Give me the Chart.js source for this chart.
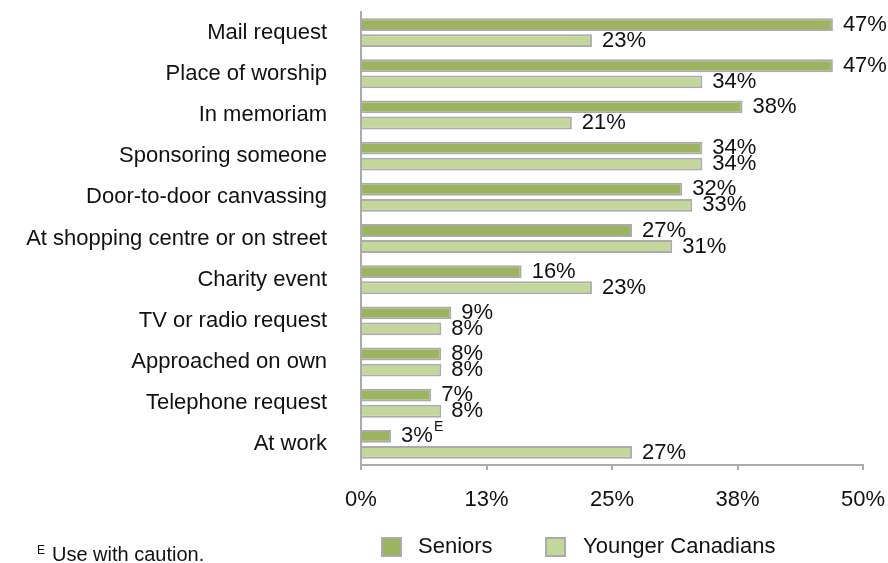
<!DOCTYPE html>
<html>
<head>
<meta charset="utf-8">
<title>Donation requests</title>
<script src="https://cdn.jsdelivr.net/npm/chart.js@4/dist/chart.umd.min.js"></script>
<style>
  html, body { margin: 0; padding: 0; background: #fff; }
  #wrap { width: 888px; height: 563px; }
</style>
</head>
<body>
<div id="wrap"><canvas id="chart" width="888" height="563"></canvas></div>
<script>
// solicitation types, top to bottom
const categories = [
  'Mail request', 'Place of worship', 'In memoriam', 'Sponsoring someone',
  'Door-to-door canvassing', 'At shopping centre or on street', 'Charity event',
  'TV or radio request', 'Approached on own', 'Telephone request', 'At work'
];
const seniors = [47, 47, 38, 34, 32, 27, 16, 9, 8, 7, 3];
const younger = [23, 34, 21, 34, 33, 31, 23, 8, 8, 8, 27];
// quality flags shown after a value label
const seniorsFlags = ['', '', '', '', '', '', '', '', '', '', 'E'];
const youngerFlags = ['', '', '', '', '', '', '', '', '', '', ''];
const xTicks = [0, 12.5, 25, 37.5, 50];

const FONT = '"Liberation Sans", Arial, Helvetica, sans-serif';
const TEXT = '#111';
const GREY = '#ababab';

const valueLabels = {
  id: 'valueLabels',
  afterDatasetsDraw(chart) {
    const ctx = chart.ctx;
    const flags = [seniorsFlags, youngerFlags];
    ctx.save();
    ctx.fillStyle = TEXT;
    ctx.textBaseline = 'middle';
    ctx.textAlign = 'left';
    chart.data.datasets.forEach((ds, di) => {
      const meta = chart.getDatasetMeta(di);
      meta.data.forEach((bar, i) => {
        const txt = ds.data[i] + '%';
        ctx.font = '22px ' + FONT;
        const x = bar.x + 10;
        ctx.fillText(txt, x, bar.y);
        if (flags[di][i]) {
          const w = ctx.measureText(txt).width;
          ctx.font = '14px ' + FONT;
          ctx.fillText(flags[di][i], x + w + 1, bar.y - 9);
        }
      });
    });
    ctx.restore();
  }
};

// legend row and footnote under the axis
const footer = {
  id: 'footer',
  afterDraw(chart) {
    const ctx = chart.ctx;
    const spots = [{ box: 381, text: 418 }, { box: 545, text: 583 }];
    ctx.save();
    ctx.textBaseline = 'middle';
    ctx.textAlign = 'left';
    chart.data.datasets.forEach((ds, i) => {
      const s = spots[i];
      ctx.fillStyle = ds.backgroundColor;
      ctx.fillRect(s.box, 537, 21, 20);
      ctx.strokeStyle = GREY;
      ctx.lineWidth = 2;
      ctx.strokeRect(s.box + 1, 538, 19, 18);
      ctx.fillStyle = TEXT;
      ctx.font = '22px ' + FONT;
      ctx.fillText(ds.label, s.text, 547);
    });
    ctx.font = '12px ' + FONT;
    ctx.fillText('E', 37, 551);
    ctx.font = '20px ' + FONT;
    ctx.fillText('Use with caution.', 52, 555);
    ctx.restore();
  }
};

new Chart(document.getElementById('chart'), {
  type: 'bar',
  data: {
    labels: categories,
    datasets: [
      {
        label: 'Seniors',
        data: seniors,
        backgroundColor: '#9cb35f',
        borderColor: GREY,
        borderWidth: 2,
        categoryPercentage: 0.78,
        barPercentage: 0.8
      },
      {
        label: 'Younger Canadians',
        data: younger,
        backgroundColor: '#c4d79a',
        borderColor: GREY,
        borderWidth: 2,
        categoryPercentage: 0.78,
        barPercentage: 0.8
      }
    ]
  },
  options: {
    indexAxis: 'y',
    responsive: false,
    animation: false,
    layout: { padding: { top: 12, right: 25, bottom: 0, left: 0 } },
    plugins: {
      legend: { display: false },
      tooltip: { enabled: false }
    },
    scales: {
      x: {
        min: 0,
        max: 50,
        afterBuildTicks: (scale) => { scale.ticks = xTicks.map(v => ({ value: v })); },
        afterFit: (scale) => {
          scale.height = 98;
          // the end labels may hang past the plot edges
          scale.paddingLeft = 0;
          scale.paddingRight = 0;
        },
        border: { display: true, color: GREY, width: 2 },
        grid: { drawOnChartArea: false, color: GREY, lineWidth: 2, tickLength: 5 },
        ticks: {
          color: TEXT,
          font: { family: FONT, size: 22 },
          padding: 17,
          maxRotation: 0,
          callback: (v) => Math.round(v) + '%'
        }
      },
      y: {
        afterFit: (scale) => {
          scale.width = 361;
          scale.paddingTop = 0;
          scale.paddingBottom = 0;
        },
        border: { display: true, color: GREY, width: 2 },
        // invisible tick marks push the category names away from the axis
        grid: { drawOnChartArea: false, color: 'rgba(0,0,0,0)', tickLength: 34 },
        ticks: {
          color: TEXT,
          font: { family: FONT, size: 22 },
          padding: 0,
          autoSkip: false
        }
      }
    }
  },
  plugins: [valueLabels, footer]
});
</script>
</body>
</html>
